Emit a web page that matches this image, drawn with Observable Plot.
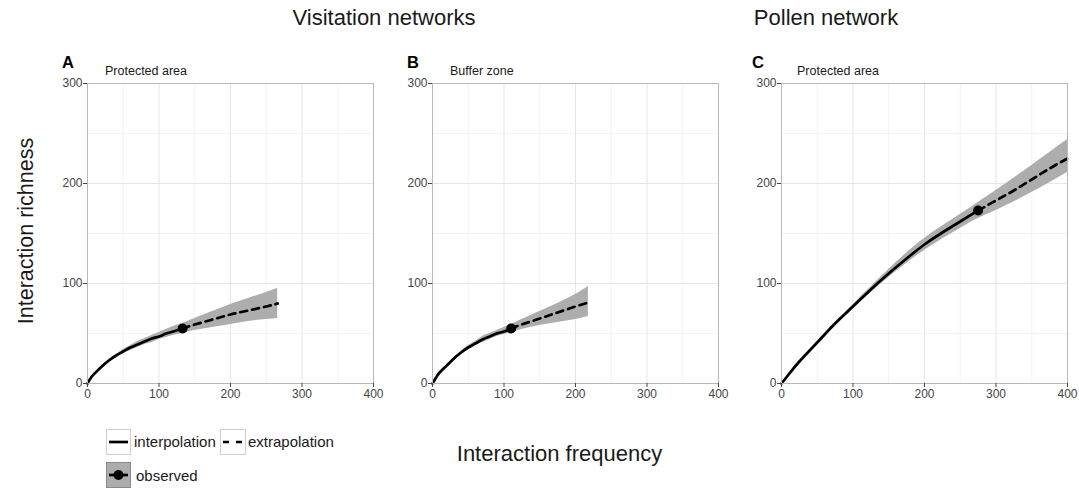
<!DOCTYPE html>
<html>
<head>
<meta charset="utf-8">
<script src="https://cdn.jsdelivr.net/npm/d3@7"></script>
<script src="https://cdn.jsdelivr.net/npm/@observablehq/plot@0.6"></script>
<style>
  html, body { margin: 0; padding: 0; background: #fff; }
  #root { position: relative; width: 1079px; height: 489px; overflow: hidden; font-family: 'Liberation Sans', Arial, sans-serif; }
  .panel { position: absolute; }
  #overlay { position: absolute; left: 0; top: 0; pointer-events: none; }
</style>
</head>
<body>
<div id="root"></div>
<script>
// ---------- DATA ----------
const xMajor = [0, 100, 200, 300, 400];
const xMinor = [50, 150, 250, 350];
const yMajor = [0, 100, 200, 300];
const yMinor = [50, 150, 250];

// Panel A — Visitation, Protected area
const aInterpX = [0, 5, 10, 20, 30, 40, 50, 60, 70, 80, 90, 100, 110, 120, 133];
const aInterpY = [0, 6, 10, 17, 23, 28, 32, 36, 39, 42, 45, 47, 50, 52, 55];
const aExtrapX = [133, 150, 175, 200, 225, 250, 266];
const aExtrapY = [55, 59, 64, 69, 73, 77, 80];
const aBandX  = [0, 10, 20, 30, 40, 50, 60, 70, 80, 90, 100, 110, 120, 133, 150, 175, 200, 225, 250, 266];
const aBandLo = [0, 10, 16, 22, 26, 30, 33, 36, 39, 41, 44, 46, 48, 50, 53, 56, 59, 62, 64, 65];
const aBandHi = [0, 10, 18, 24, 29, 34, 38, 42, 45, 48, 51, 54, 57, 60, 65, 72, 79, 85, 91, 95];
const aObs = [133, 55];

// Panel B — Visitation, Buffer zone
const bInterpX = [0, 5, 10, 20, 30, 40, 50, 60, 70, 80, 90, 100, 110];
const bInterpY = [0, 6, 11, 18, 25, 31, 36, 40, 44, 47, 50, 52, 55];
const bExtrapX = [110, 125, 150, 175, 200, 218];
const bExtrapY = [55, 59, 65, 71, 77, 81];
const bBandX  = [0, 10, 20, 30, 40, 50, 60, 70, 80, 90, 100, 110, 125, 150, 175, 200, 218];
const bBandLo = [0, 11, 18, 24, 30, 34, 38, 41, 44, 47, 49, 51, 54, 58, 61, 64, 67];
const bBandHi = [0, 11, 18, 26, 32, 38, 42, 47, 50, 53, 56, 59, 64, 72, 80, 89, 97];
const bObs = [110, 55];

// Panel C — Pollen, Protected area
const cInterpX = [0, 10, 25, 50, 75, 100, 125, 150, 175, 200, 225, 250, 275];
const cInterpY = [0, 9, 22, 41, 60, 77, 94, 110, 125, 139, 151, 162, 173];
const cExtrapX = [275, 300, 325, 350, 375, 400];
const cExtrapY = [173, 183, 193, 204, 215, 225];
const cBandX  = [0, 50, 100, 150, 200, 250, 275, 300, 350, 400];
const cBandLo = [0, 40, 75, 106, 133, 155, 165, 173, 191, 211];
const cBandHi = [0, 42, 79, 114, 145, 169, 181, 193, 218, 244];
const cObs = [275, 173];

// ---------- BUILD ----------
const zip2 = (xs, ys) => xs.map((x, i) => ({x, y: ys[i]}));
const zipBand = (xs, lo, hi) => xs.map((x, i) => ({x, lo: lo[i], hi: hi[i]}));

const root = document.getElementById("root");

const ML = 40, MR = 14, MT = 10, MB = 22, PW = 286, PH = 300;

function panel(left, interpX, interpY, extrapX, extrapY, bandX, bandLo, bandHi, obs) {
  const chart = Plot.plot({
    width: ML + PW + MR,
    height: MT + PH + MB,
    marginLeft: ML, marginRight: MR, marginTop: MT, marginBottom: MB,
    style: {fontFamily: "'Liberation Sans', Arial, sans-serif", fontSize: "12px", color: "#4d4d4d", background: "transparent", overflow: "visible"},
    x: {domain: [0, 400]},
    y: {domain: [0, 300]},
    marks: [
      Plot.gridX(xMinor, {stroke: "#f3f3f3", strokeOpacity: 1}),
      Plot.gridY(yMinor, {stroke: "#f3f3f3", strokeOpacity: 1}),
      Plot.gridX(xMajor, {stroke: "#e6e6e6", strokeOpacity: 1}),
      Plot.gridY(yMajor, {stroke: "#e6e6e6", strokeOpacity: 1}),
      Plot.areaY(zipBand(bandX, bandLo, bandHi), {x: "x", y1: "lo", y2: "hi", fill: "#adadad", curve: "natural"}),
      Plot.line(zip2(interpX, interpY), {x: "x", y: "y", stroke: "#000", strokeWidth: 2.7, curve: "natural"}),
      Plot.line(zip2(extrapX, extrapY), {x: "x", y: "y", stroke: "#000", strokeWidth: 2.7, strokeDasharray: "7,5", curve: "natural"}),
      Plot.dot([{x: obs[0], y: obs[1]}], {x: "x", y: "y", r: 5, fill: "#000", stroke: "none"}),
      Plot.frame({stroke: "#b8b8b8"}),
      Plot.axisX({ticks: xMajor, tickSize: 4, tickPadding: 2, label: null, color: "#454545"}),
      Plot.axisY({ticks: yMajor, tickSize: 4, tickPadding: 1, label: null, color: "#454545"})
    ]
  });
  chart.classList.add("panel");
  chart.style.left = (left - ML) + "px";
  chart.style.top = (83 - MT) + "px";
  root.appendChild(chart);
}

panel(87, aInterpX, aInterpY, aExtrapX, aExtrapY, aBandX, aBandLo, aBandHi, aObs);
panel(432, bInterpX, bInterpY, bExtrapX, bExtrapY, bBandX, bBandLo, bBandHi, bObs);
panel(781, cInterpX, cInterpY, cExtrapX, cExtrapY, cBandX, cBandLo, cBandHi, cObs);

// ---------- TEXT OVERLAY & LEGEND ----------
const ns = "http://www.w3.org/2000/svg";
const ov = document.createElementNS(ns, "svg");
ov.setAttribute("id", "overlay");
ov.setAttribute("width", 1079);
ov.setAttribute("height", 489);
ov.setAttribute("font-family", "'Liberation Sans', Arial, sans-serif");
root.appendChild(ov);

function txt(s, x, y, size, opts = {}) {
  const t = document.createElementNS(ns, "text");
  t.textContent = s;
  t.setAttribute("x", x);
  t.setAttribute("y", y);
  t.setAttribute("font-size", size);
  t.setAttribute("fill", opts.fill || "#1a1a1a");
  if (opts.anchor) t.setAttribute("text-anchor", opts.anchor);
  if (opts.weight) t.setAttribute("font-weight", opts.weight);
  if (opts.transform) t.setAttribute("transform", opts.transform);
  ov.appendChild(t);
  return t;
}
function el(tag, attrs) {
  const e = document.createElementNS(ns, tag);
  for (const k in attrs) e.setAttribute(k, attrs[k]);
  ov.appendChild(e);
  return e;
}

txt("Visitation networks", 384, 25, 22, {anchor: "middle"});
txt("Pollen network", 826, 25, 22, {anchor: "middle"});

txt("A", 62, 68, 16.5, {weight: "bold", fill: "#000"});
txt("B", 407, 68, 16.5, {weight: "bold", fill: "#000"});
txt("C", 752, 68, 16.5, {weight: "bold", fill: "#000"});

txt("Protected area", 105, 75, 12.5);
txt("Buffer zone", 450, 75, 12.5);
txt("Protected area", 797, 75, 12.5);

txt("Interaction richness", 0, 0, 21.5, {anchor: "middle", transform: "translate(33,231) rotate(-90)"});
txt("Interaction frequency", 559.5, 461, 22, {anchor: "middle"});

// legend
el("rect", {x: 106.5, y: 429.5, width: 24, height: 25, fill: "#fff", stroke: "#cfcfcf", "stroke-width": 1});
el("line", {x1: 109, x2: 128, y1: 442, y2: 442, stroke: "#000", "stroke-width": 2.7});
txt("interpolation", 134, 447, 15);
el("rect", {x: 220.5, y: 429.5, width: 25, height: 25, fill: "#fff", stroke: "#cfcfcf", "stroke-width": 1});
el("line", {x1: 223, x2: 243, y1: 442, y2: 442, stroke: "#000", "stroke-width": 2.7, "stroke-dasharray": "6,7"});
txt("extrapolation", 248, 447, 15);
el("rect", {x: 106.5, y: 462.5, width: 24, height: 25, fill: "#adadad", stroke: "#8a8a8a", "stroke-width": 1});
el("line", {x1: 109, x2: 128, y1: 475, y2: 475, stroke: "#000", "stroke-width": 2.7});
el("circle", {cx: 118.5, cy: 475, r: 5, fill: "#000"});
txt("observed", 136, 481, 15);
</script>
</body>
</html>
